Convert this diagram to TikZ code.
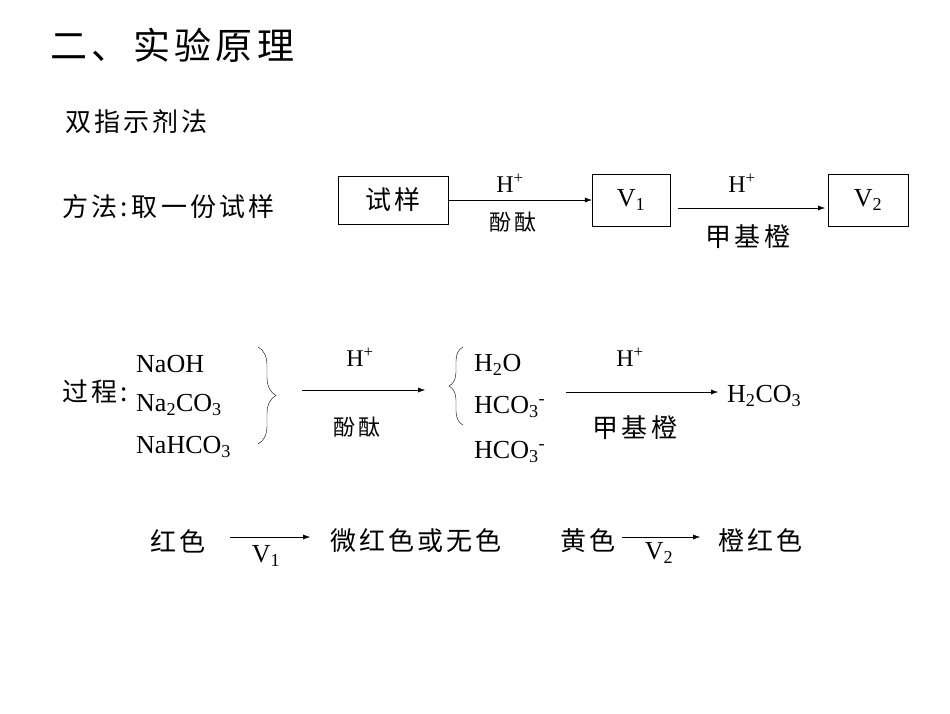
\documentclass[tikz,border=0pt]{standalone}
\usepackage{fontspec}
\setmainfont{Liberation Serif}
\newfontfamily\cjk[LetterSpace=12]{Noto Sans CJK SC}
\usetikzlibrary{decorations.pathreplacing,arrows.meta}
\begin{document}
\begin{tikzpicture}[x=1pt,y=-1pt,
 bx/.style={draw,minimum height=50pt,inner sep=0pt},
 ar/.style={-{Latex[length=7pt,width=5pt]}},
 cn/.style={font=\cjk\fontsize{26}{30}\selectfont,inner sep=0pt},
 lt/.style={font=\fontsize{26}{30}\selectfont,inner sep=0pt,anchor=west},
 sm/.style={font=\fontsize{24}{28}\selectfont,inner sep=0pt}]
\path[use as bounding box,fill=white](0,0) rectangle (950,713);
\node[cn,anchor=west,font=\cjk\fontsize{37}{40}\selectfont] (t) at (50,45) {二、实验原理};
\node[cn,anchor=west] (s) at (65,122) {双指示剂法};
\node[cn,anchor=west] (m) at (62,207) {方法:\,取一份试样};
\node[bx,minimum width=110pt,cn,minimum height=48pt] (b1) at (393,200) {试样};
\node[bx,minimum width=78pt,lt,anchor=center,minimum height=52pt] (b2) at (631,200) {V\textsubscript{1}};
\node[bx,minimum width=80pt,lt,anchor=center,minimum height=52pt] (b3) at (868,200) {V\textsubscript{2}};
\draw[ar] (b1.east) -- (b2.west);
\coordinate (a1) at (678,208); \coordinate (a2) at (825,208);
\draw[ar] (a1) -- (a2);
\node[sm] (h1) at (510,183) {H\textsuperscript{+}};
\node[cn,font=\cjk\fontsize{22}{24}\selectfont] (f1) at (513,222) {酚酞};
\node[sm] (h2) at (742,183) {H\textsuperscript{+}};
\node[cn] (j1) at (748,237) {甲基橙};
\node[cn,anchor=west] (g) at (62,392) {过程:};
\node[lt] (n1) at (136,364) {NaOH};
\node[lt] (n2) at (136,405) {Na\textsubscript{2}CO\textsubscript{3}};
\node[lt] (n3) at (136,447) {NaHCO\textsubscript{3}};
\draw[decorate,decoration={brace,amplitude=18pt}] (258,347) -- (258,444);
\coordinate (c1) at (302,390); \coordinate (c2) at (425,390);
\draw[ar] (c1) -- (c2);
\node[sm] (h3) at (360,357) {H\textsuperscript{+}};
\node[cn,font=\cjk\fontsize{22}{24}\selectfont] (f2) at (357,427) {酚酞};
\draw[decorate,decoration={brace,amplitude=14pt}] (463,425) -- (463,347);
\node[lt] (p1) at (474,365) {H\textsubscript{2}O};
\node[lt] (p2) at (474,407) {HCO\textsubscript{3}\textsuperscript{-}};
\node[lt] (p3) at (474,452) {HCO\textsubscript{3}\textsuperscript{-}};
\coordinate (d1) at (566,392); \coordinate (d2) at (718,392);
\draw[ar] (d1) -- (d2);
\node[sm] (h4) at (630,357) {H\textsuperscript{+}};
\node[cn] (j2) at (635,428) {甲基橙};
\node[lt] (q) at (727,396) {H\textsubscript{2}CO\textsubscript{3}};
\node[cn,anchor=west] (r1) at (150,541) {红色};
\node[cn,anchor=west] (r2) at (330,541) {微红色或无色};
\node[cn,anchor=west] (r3) at (560,541) {黄色};
\node[cn,anchor=west] (r4) at (718,541) {橙红色};
\coordinate (e1) at (230,537); \coordinate (e2) at (310,537);
\draw[ar] (e1) -- (e2);
\coordinate (e3) at (622,537); \coordinate (e4) at (700,537);
\draw[ar] (e3) -- (e4);
\node[lt,anchor=center] (v1) at (266,556) {V\textsubscript{1}};
\node[lt,anchor=center] (v2) at (659,553) {V\textsubscript{2}};
\end{tikzpicture}
\end{document}
